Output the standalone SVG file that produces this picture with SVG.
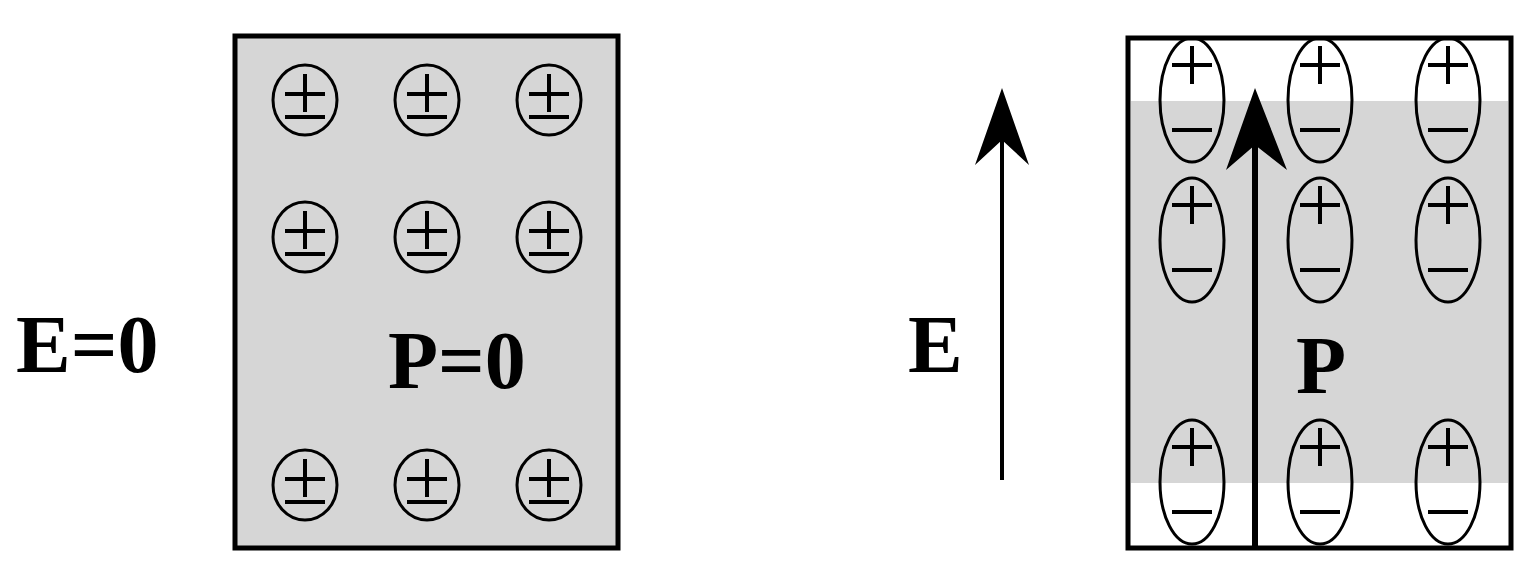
<svg xmlns="http://www.w3.org/2000/svg" width="1539" height="584" viewBox="0 0 1539 584">
<style>
text{font-family:'Liberation Serif','Times New Roman',Times,serif;font-weight:700;font-size:82px;fill:#000}
.c{fill:none;stroke:#000;stroke-width:3}
.s{stroke:#000;stroke-width:4;fill:none}
</style>
<defs>
<g id="pm"><ellipse class="c" cx="0" cy="0" rx="32" ry="35"/><path class="s" d="M-20 -6H20M0 -26V12M-20 17H20"/></g>
<g id="dp"><ellipse class="c" cx="0" cy="0" rx="32" ry="62"/><path class="s" d="M-20 -35H20M0 -54V-16M-20 30H20"/></g>
</defs>
<rect x="0" y="0" width="1539" height="584" fill="#fff"/>
<g id="left-box">
<rect x="235" y="36" width="383" height="512" fill="#d6d6d6" stroke="#000" stroke-width="5"/>
<use href="#pm" x="305" y="100"/><use href="#pm" x="427" y="100"/><use href="#pm" x="549" y="100"/>
<use href="#pm" x="305" y="237"/><use href="#pm" x="427" y="237"/><use href="#pm" x="549" y="237"/>
<use href="#pm" x="305" y="485"/><use href="#pm" x="427" y="485"/><use href="#pm" x="549" y="485"/>
<text font-family="Liberation Serif" x="388" y="388">P=0</text>
</g>
<text font-family="Liberation Serif" x="16" y="372">E=0</text>
<g id="right-box">
<rect x="1128" y="38" width="383" height="510" fill="#fff" stroke="#000" stroke-width="5"/>
<rect x="1131" y="101" width="377" height="382" fill="#d6d6d6"/>
<use href="#dp" x="1192" y="100"/><use href="#dp" x="1320" y="100"/><use href="#dp" x="1448" y="100"/>
<use href="#dp" x="1192" y="240"/><use href="#dp" x="1320" y="240"/><use href="#dp" x="1448" y="240"/>
<use href="#dp" x="1192" y="482"/><use href="#dp" x="1320" y="482"/><use href="#dp" x="1448" y="482"/>
<text font-family="Liberation Serif" x="1296" y="393">P</text>
</g>
<text font-family="Liberation Serif" x="908" y="372">E</text>
<g id="connectors">
<line x1="1002" y1="480" x2="1002" y2="130" stroke="#000" stroke-width="4"/>
<path d="M1002 88L1029 165L1002 140L975 165Z" fill="#000"/>
<line x1="1255" y1="548" x2="1255" y2="130" stroke="#000" stroke-width="6"/>
<path d="M1255 88L1287 170L1255 145L1226 170Z" fill="#000"/>
</g>
</svg>
